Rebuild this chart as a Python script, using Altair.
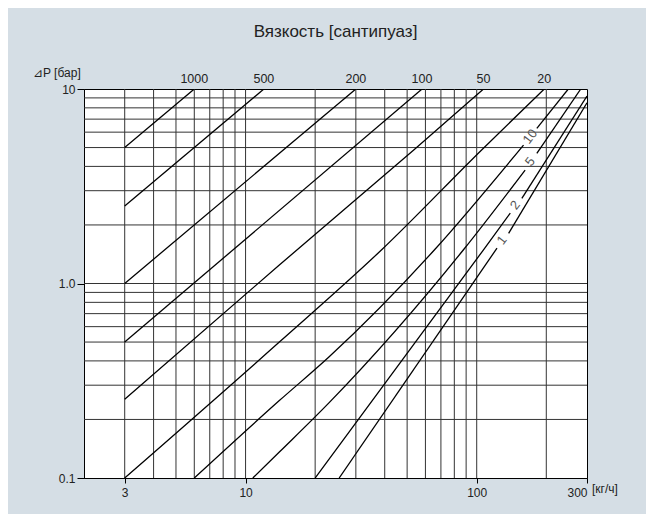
import altair as alt
import pandas as pd

# ---- data ----
# viscosity curves [cP]: flow Q [kg/h] vs pressure drop dP [bar]
# each curve: list of segments (segments split where the curve carries a label)
curves = {
    "1000": [([3, 6], [5.0, 10.0])],
    "500": [([3, 12], [2.5, 10.0])],
    "200": [([3, 30], [1.0, 10.0])],
    "100": [([3, 58], [0.5, 10.0])],
    "50": [([3, 14, 53.4, 107], [0.254, 1.245, 4.86, 10.0])],
    "20": [([3, 14, 39, 105, 196], [0.1, 0.5, 1.5, 4.86, 10.0])],
    "10": [([6, 14, 23, 66, 159.4], [0.1, 0.25, 0.42, 1.5, 5.15]),
           ([182, 249], [6.28, 10.0])],
    "5": [([10.75, 14, 23, 88, 162], [0.1, 0.136, 0.244, 1.5, 3.83]),
          ([182, 282], [4.67, 10.0])],
    "2": [([20, 107, 139.7], [0.1, 1.49, 2.30]),
          ([156.8, 300], [2.74, 9.2])],
    "1": [([25.4, 122.4], [0.1, 1.52]),
          ([137.4, 300], [1.81, 8.5])],
}

top_labels = ["1000", "500", "200", "100", "50", "20"]
top_label_q = [6, 12, 30, 58, 107, 196]

side_labels = ["10", "5", "2", "1"]
side_label_q = [170.4, 170.4, 146.9, 128.5]
side_label_p = [5.69, 4.23, 2.53, 1.67]

x_grid = [3, 4, 5, 6, 7, 8, 9, 10, 20, 30, 40, 50, 60, 70, 80, 90, 100, 200]
y_grid = [0.2, 0.3, 0.4, 0.5, 0.6, 0.7, 0.8, 0.9, 1, 2, 3, 4, 5, 6, 7, 8, 9]

x_ticks = [3, 10, 100, 300]
y_ticks = [0.1, 1, 10]

title_text = "Вязкость [сантипуаз]"
y_title = "⊿P [бар]"
x_unit = "[кг/ч]"

# ---- build tables ----
rows = []
for visc, segs in curves.items():
    for i, (qs, ps) in enumerate(segs):
        for q, p in zip(qs, ps):
            rows.append({"visc": visc, "seg": f"{visc}_{i}", "Q": q, "P": p})
lines_df = pd.DataFrame(rows)

top_df = pd.DataFrame({"t": top_labels, "Q": top_label_q, "P": [10] * len(top_labels)})
side_df = pd.DataFrame({"t": side_labels, "Q": side_label_q, "P": side_label_p})
xg_df = pd.DataFrame({"Q": x_grid})
yg_df = pd.DataFrame({"P": y_grid})

W, H = 503, 389
FONT = "Liberation Sans"
TXT = "#222222"

xs = alt.Scale(type="log", domain=[2, 300], nice=False)
ys = alt.Scale(type="log", domain=[0.1, 10], nice=False)

x_axis = alt.Axis(
    values=x_ticks, grid=False, title=None, labelFont=FONT, labelFontSize=12,
    labelColor=TXT, tickSize=5, tickColor="#000", domainColor="#000",
    labelPadding=4, labelFlush=False, labelOverlap=False,
    labelAlign=alt.ExprRef(expr="datum.value >= 300 ? 'right' : 'center'"),
    labelExpr="format(datum.value, 'd')")
y_axis = alt.Axis(
    values=y_ticks, grid=False, title=None, labelFont=FONT, labelFontSize=12,
    labelColor=TXT, tickSize=7, tickColor="#000", domainColor="#000",
    labelPadding=2, labelFlush=False, labelOverlap=False,
    labelExpr="datum.value >= 10 ? '10' : format(datum.value, '.1f')")

X = alt.X("Q:Q", scale=xs, axis=x_axis)
Y = alt.Y("P:Q", scale=ys, axis=y_axis)

vgrid = alt.Chart(xg_df).mark_rule(color="#333333", strokeWidth=1).encode(x=X)
hgrid = alt.Chart(yg_df).mark_rule(color="#333333", strokeWidth=1).encode(y=Y)

curves_layer = alt.Chart(lines_df).mark_line(
    color="#000000", strokeWidth=1.3, interpolate="monotone", clip=True
).encode(x=X, y=Y, detail="seg:N", order="Q:Q")

top_text = alt.Chart(top_df).mark_text(
    font=FONT, fontSize=12.5, color=TXT, baseline="bottom", align="center", dy=-3
).encode(x=X, y=Y, text="t:N")

side_text = alt.Chart(side_df).mark_text(
    font=FONT, fontSize=13, color="#555555", baseline="middle", align="center", angle=307
).encode(x=X, y=Y, text="t:N")

title_layer = alt.Chart(pd.DataFrame({"t": [title_text]})).mark_text(
    font=FONT, fontSize=17, color=TXT, align="center", baseline="middle"
).encode(x=alt.value(W / 2), y=alt.value(-57), text="t:N")

ytitle_layer = alt.Chart(pd.DataFrame({"t": [y_title]})).mark_text(
    font=FONT, fontSize=12, color=TXT, align="left", baseline="middle"
).encode(x=alt.value(-51), y=alt.value(-16), text="t:N")

xunit_layer = alt.Chart(pd.DataFrame({"t": [x_unit]})).mark_text(
    font=FONT, fontSize=12, color=TXT, align="left", baseline="middle"
).encode(x=alt.value(W + 5), y=alt.value(H + 11), text="t:N")

chart = alt.layer(
    vgrid, hgrid, curves_layer, top_text, side_text, title_layer, ytitle_layer, xunit_layer
).properties(
    width=W, height=H,
    autosize=alt.AutoSizeParams(type="none"),
    padding={"left": 76, "top": 81, "right": 59, "bottom": 36},
    background="#d5dee5",
).configure_view(
    fill="#ffffff", stroke="#000000", strokeWidth=1,
)

chart.save("out.html", embed_options={"renderer": "svg", "actions": False})
